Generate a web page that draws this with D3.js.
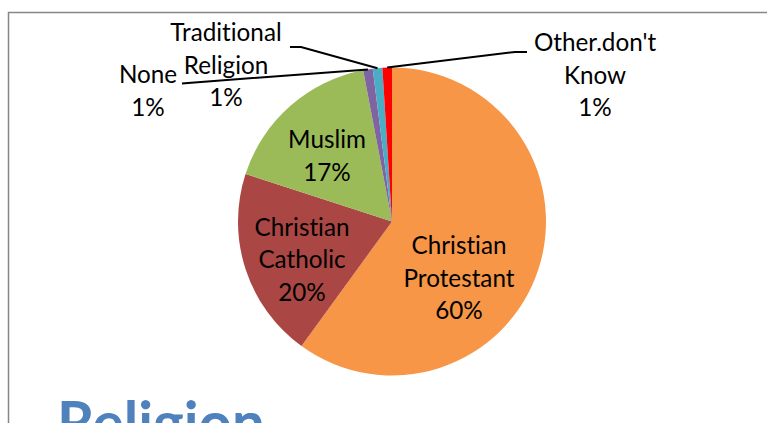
<!DOCTYPE html>
<html>
<head>
<meta charset="utf-8">
<script src="https://cdn.jsdelivr.net/npm/d3@7"></script>
<style>
  html, body { margin: 0; padding: 0; background: #fff; }
  svg { display: block; }
  text { font-variant-ligatures: none; font-feature-settings: "liga" 0, "clig" 0; }
</style>
</head>
<body>
<svg id="chart" width="767" height="423"></svg>
<script>
// Religion breakdown (percent of respondents)
const categories = ["Christian Protestant", "Christian Catholic", "Muslim", "None", "Traditional Religion", "Other.don't Know"];
const values = [60, 20, 17, 1, 1, 1];
const colors = ["#F79646", "#AA4643", "#9BBB59", "#8064A2", "#4BACC6", "#FF0000"];
const title = "Religion";

const W = 767, H = 423;
const cx = 392, cy = 221.5, R = 154;
const lineGap = 32.5;

// label placement relative to the pie centre: centre x of the text block,
// baseline of its first line, and (for outside labels) the leader-line start and elbow
const labelLayout = {
  "Christian Protestant": { x: 67, y: 32.5 },
  "Christian Catholic":   { x: -90, y: 14 },
  "Muslim":               { x: -65, y: -73.5 },
  "None":                 { x: -244, y: -138.5, lead: [[-210, -138], [-204, -138.5]] },
  "Traditional Religion": { x: -166, y: -180.5, lead: [[-102, -174.5], [-91, -174.5]] },
  "Other.don't Know":     { x: 203, y: -170.5, lead: [[135, -169.5], [123, -169.5]] }
};

const svg = d3.select("#chart");
const FONT = "Lato, 'Open Sans', 'DejaVu Sans', sans-serif";

// chart area frame
svg.append("rect")
  .attr("x", 8.5).attr("y", 12.5)
  .attr("width", W + 20).attr("height", H + 40)
  .attr("fill", "none")
  .attr("stroke", "#868686")
  .attr("stroke-width", 1.5);

// size a font so a reference word spans a given width
function fitSize(text, weight, targetWidth) {
  const t = svg.append("text")
    .attr("font-family", FONT).attr("font-weight", weight)
    .attr("font-size", 100).text(text);
  const w = t.node().getComputedTextLength();
  t.remove();
  return 100 * targetWidth / w;
}
const labelSize = fitSize("Christian", 400, 95);
const titleSize = fitSize(title, 700, 208);

const pie = d3.pie().sort(null).value(d => d.value);
const arcs = pie(categories.map((c, i) => ({ name: c, value: values[i], color: colors[i] })));
const total = d3.sum(values);
const pct = d3.format(".0%");

const arc = d3.arc().innerRadius(0).outerRadius(R);

const g = svg.append("g").attr("transform", `translate(${cx},${cy})`);

g.selectAll("path.slice")
  .data(arcs)
  .join("path")
  .attr("class", "slice")
  .attr("d", arc)
  .attr("fill", d => d.data.color);

// leader lines for the thin slices
const edgePoint = d => {
  const a = (d.startAngle + d.endAngle) / 2;
  return [R * Math.sin(a), -R * Math.cos(a)];
};
g.selectAll("path.leader")
  .data(arcs.filter(d => labelLayout[d.data.name].lead))
  .join("path")
  .attr("class", "leader")
  .attr("fill", "none")
  .attr("stroke", "#000")
  .attr("stroke-width", 2)
  .attr("d", d => d3.line()(labelLayout[d.data.name].lead.concat([edgePoint(d)])));

// data labels: category name split over lines, then the percentage
const labels = g.selectAll("text.label")
  .data(arcs)
  .join("text")
  .attr("class", "label")
  .attr("font-family", FONT)
  .attr("font-size", labelSize)
  .attr("fill", "#000")
  .attr("text-anchor", "middle");

labels.each(function (d) {
  const pos = labelLayout[d.data.name];
  const lines = d.data.name.split(" ").concat([pct(d.data.value / total)]);
  d3.select(this).selectAll("tspan")
    .data(lines)
    .join("tspan")
    .attr("x", pos.x)
    .attr("y", (l, i) => pos.y + i * lineGap)
    .text(l => l);
});

// chart title, its cap line sitting at y = 402
svg.append("text")
  .attr("x", 57)
  .attr("y", 402 + 0.72 * titleSize)
  .attr("font-family", FONT)
  .attr("font-weight", 700)
  .attr("font-size", titleSize)
  .attr("fill", "#4F81BD")
  .text(title);
</script>
</body>
</html>
